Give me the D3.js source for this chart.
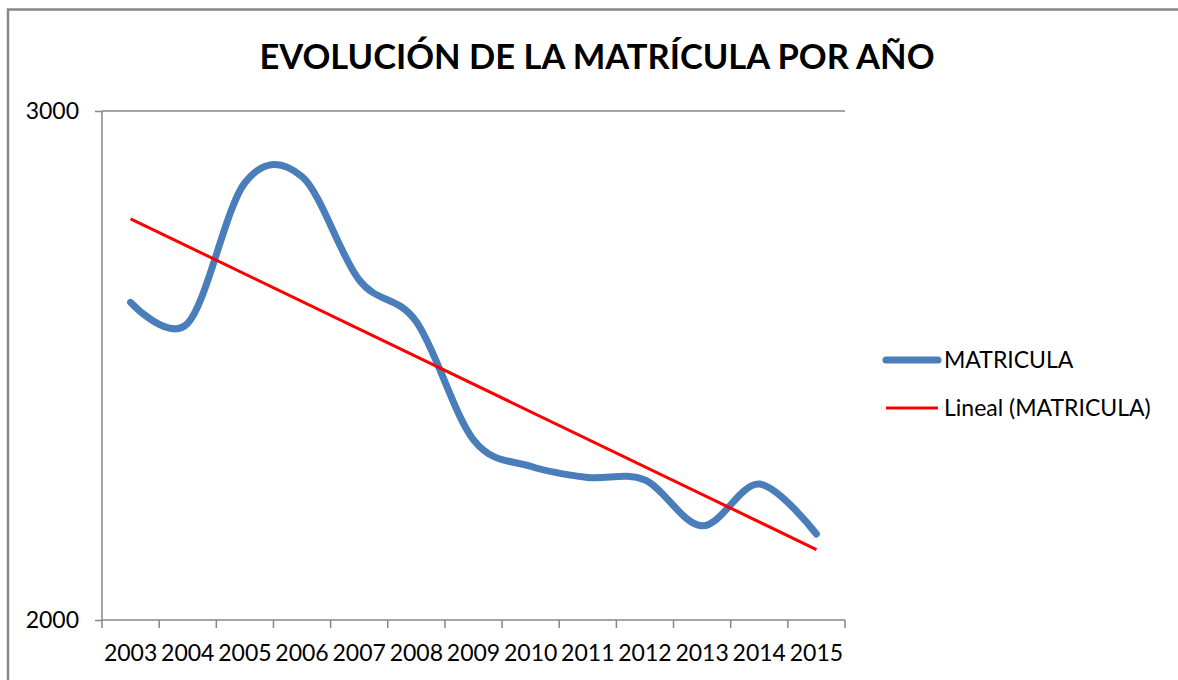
<!DOCTYPE html>
<html>
<head>
<meta charset="utf-8">
<script src="https://cdn.jsdelivr.net/npm/d3@7"></script>
<style>
  body { margin: 0; background: #fff; }
  svg text { font-family: Lato, "Open Sans", sans-serif; fill: #000; }
</style>
</head>
<body>
<svg width="1178" height="680"></svg>
<script>
// data
var years = ["2003", "2004", "2005", "2006", "2007", "2008", "2009",
  "2010", "2011", "2012", "2013", "2014", "2015"];
var matricula = [2624, 2583, 2859, 2871, 2668, 2586, 2354,
  2302, 2280, 2275, 2185, 2267, 2169];
var yTicks = [2000, 3000];
var seriesName = "MATRICULA";
var trendName = "Lineal (MATRICULA)";
var title = "EVOLUCIÓN DE LA MATRÍCULA POR AÑO";

var svg = d3.select("svg"),
  plotLeft = 102,
  plotRight = 845,
  plotTop = 111,
  plotBottom = 620;

var blue = "#4a7ebb",
  red = "#ff0000",
  grey = "#868686";

// chart frame (only left and top edges are in view)
svg.append("rect")
  .attr("x", 8).attr("y", 9.5)
  .attr("width", 1300).attr("height", 800)
  .attr("fill", "none")
  .attr("stroke", grey)
  .attr("stroke-width", 2.5);

var xScale = d3.scaleBand().domain(years).range([plotLeft, plotRight]),
  yScale = d3.scaleLinear().domain([2000, 3000]).range([plotBottom, plotTop]);

// Title
svg.append("text")
  .attr("x", 597)
  .attr("y", 69)
  .attr("text-anchor", "middle")
  .style("font-weight", "bold")
  .style("font-size", "34.5px")
  .text(title);

// gridline at the top value
svg.append("g")
  .selectAll("line")
  .data(yTicks.slice(1))
  .enter()
  .append("line")
  .attr("x1", plotLeft).attr("x2", plotRight)
  .attr("y1", function (d) { return yScale(d); })
  .attr("y2", function (d) { return yScale(d); })
  .attr("stroke", grey)
  .attr("stroke-width", 1.5);

// Y axis
var yAxis = svg.append("g")
  .attr("transform", "translate(" + plotLeft + ",0)")
  .call(d3.axisLeft(yScale).tickValues(yTicks).tickFormat(d3.format("d")).tickSize(7).tickPadding(16));

// X axis, ticks between categories
var xAxis = svg.append("g")
  .attr("transform", "translate(0," + plotBottom + ")")
  .call(d3.axisBottom(xScale).tickSize(0).tickPadding(25));

xAxis.selectAll(".tick-sep")
  .data(years.concat(["end"]))
  .enter()
  .append("line")
  .attr("x1", function (d, i) { return plotLeft + i * xScale.step(); })
  .attr("x2", function (d, i) { return plotLeft + i * xScale.step(); })
  .attr("y1", 0).attr("y2", 8)
  .attr("stroke", grey)
  .attr("stroke-width", 1.5);

[yAxis, xAxis].forEach(function (ax) {
  ax.select(".domain").attr("stroke", grey).attr("stroke-width", 1.5);
  ax.selectAll(".tick line").attr("stroke", grey).attr("stroke-width", 1.5);
  ax.selectAll(".tick text")
    .style("font-family", "Lato, sans-serif")
    .style("font-size", "23px")
    .attr("fill", "#000");
});
yAxis.select(".domain").attr("d", "M0," + plotBottom + "V" + plotTop);
xAxis.select(".domain").attr("d", "M" + plotLeft + ",0H" + plotRight);

// linear trend (least squares over the series)
var n = matricula.length,
  mx = d3.mean(matricula, function (d, i) { return i; }),
  my = d3.mean(matricula),
  slope = d3.sum(matricula, function (d, i) { return (i - mx) * (d - my); }) /
    d3.sum(matricula, function (d, i) { return (i - mx) * (i - mx); });
var trend = [0, n - 1].map(function (i) {
  return [years[i], my + slope * (i - mx)];
});

var cx = function (y) { return xScale(y) + xScale.bandwidth() / 2; };

// series line
var line = d3.line()
  .x(function (d) { return cx(d[0]); })
  .y(function (d) { return yScale(d[1]); })
  .curve(d3.curveCardinal.tension(0));

svg.append("path")
  .datum(years.map(function (y, i) { return [y, matricula[i]]; }))
  .attr("d", line)
  .attr("fill", "none")
  .attr("stroke", blue)
  .attr("stroke-width", 7)
  .attr("stroke-linecap", "round")
  .attr("stroke-linejoin", "round");

svg.append("path")
  .datum(trend)
  .attr("d", d3.line()
    .x(function (d) { return cx(d[0]); })
    .y(function (d) { return yScale(d[1]); }))
  .attr("fill", "none")
  .attr("stroke", red)
  .attr("stroke-width", 3);

// Legend
var legend = svg.append("g");
legend.append("line")
  .attr("x1", 886).attr("x2", 938)
  .attr("y1", 360).attr("y2", 360)
  .attr("stroke", blue).attr("stroke-width", 7)
  .attr("stroke-linecap", "round");
legend.append("text")
  .attr("x", 944).attr("y", 368)
  .style("font-size", "23px")
  .text(seriesName);
legend.append("line")
  .attr("x1", 886).attr("x2", 938)
  .attr("y1", 408).attr("y2", 408)
  .attr("stroke", red).attr("stroke-width", 3);
legend.append("text")
  .attr("x", 944).attr("y", 416)
  .style("font-size", "23px")
  .text(trendName);
</script>
</body>
</html>
